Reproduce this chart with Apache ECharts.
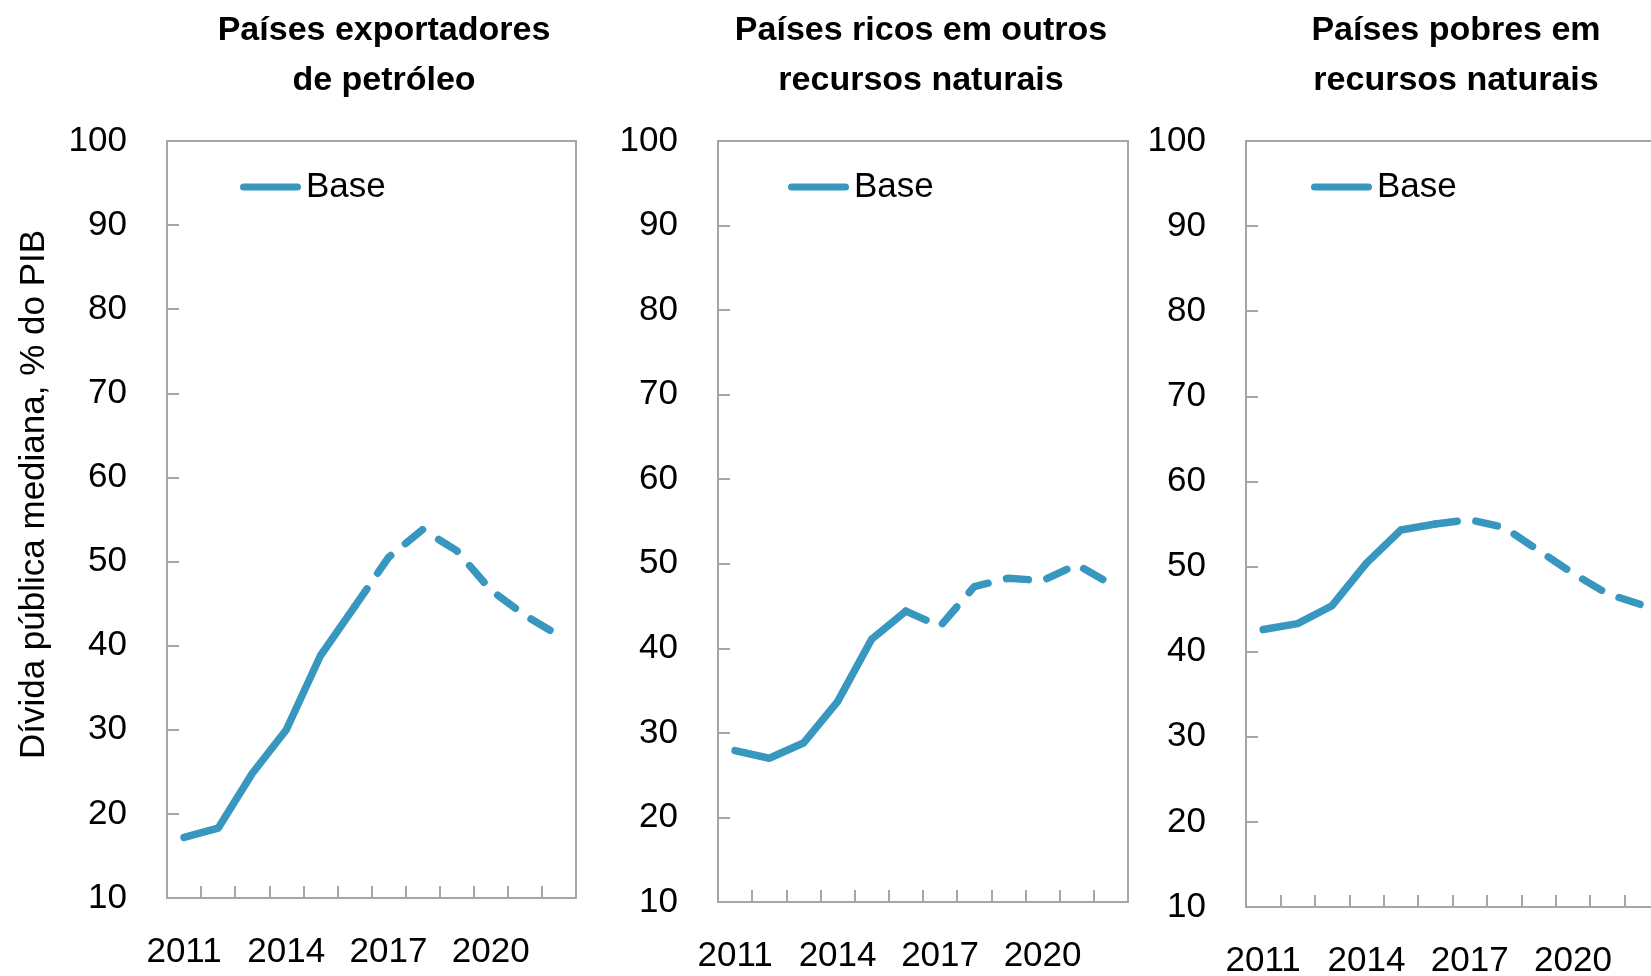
<!DOCTYPE html>
<html>
<head>
<meta charset="utf-8">
<script src="https://cdn.jsdelivr.net/npm/echarts@6/dist/echarts.min.js"></script>
<style>
html,body{margin:0;padding:0;background:#fff;}
#chart{width:1651px;height:976px;}
</style>
</head>
<body>
<div id="chart"></div>
<script>
// ---- Data ----
const years = ['2011','2012','2013','2014','2015','2016','2017','2018','2019','2020','2021','2022'];
const lastActualYear = '2016';
const oilExporters = [17.2, 18.3, 24.8, 30.0, 38.8, 44.6, 50.5, 53.8, 51.3, 46.6, 43.6, 41.2];
const otherResourceRich = [27.9, 27.0, 28.8, 33.7, 41.1, 44.4, 42.6, 47.3, 48.3, 48.0, 49.9, 47.6];
const resourcePoor = [42.6, 43.3, 45.4, 50.4, 54.3, 55.0, 55.5, 54.6, 51.9, 49.2, 46.8, 45.5];
const panelTitles = ['Países exportadores\nde petróleo', 'Países ricos em outros\nrecursos naturais', 'Países pobres em\nrecursos naturais'];
const seriesName = 'Base';
const yAxisTitle = 'Dívida pública mediana, % do PIB';
const yTicks = {min: 10, max: 100, interval: 10};

// ---- Layout / style ----
const FONT = "'Liberation Sans', Arial, Helvetica, sans-serif";
const FS = {title: 34, tick: 35, xtick: 35, legend: 35, name: 35};
const LINE_COLOR = '#3797bf';
const GRID_COLOR = '#a6a6a6';
const panels = [
  {data: oilExporters, grid: {left: 167, top: 141, width: 409, height: 757}, titleX: 384, legendX: 240},
  {data: otherResourceRich, grid: {left: 718, top: 141, width: 410, height: 761}, titleX: 921, legendX: 788},
  {data: resourcePoor, grid: {left: 1246, top: 141, width: 413, height: 766}, titleX: 1456, legendX: 1311}
];
const LEGEND_ICON = 'path://M3.5,0 H57.5 A3.5,3.5 0 0 1 57.5,7 H3.5 A3.5,3.5 0 0 1 3.5,0 Z';

const splitIdx = years.indexOf(lastActualYear);
const option = {
  backgroundColor: '#fff',
  animation: false,
  textStyle: {fontFamily: FONT},
  title: [], legend: [], grid: [], xAxis: [], yAxis: [], series: []
};

panels.forEach((p, k) => {
  option.title.push({
    text: panelTitles[k], left: p.titleX, top: 6, textAlign: 'center', padding: 0,
    textStyle: {fontFamily: FONT, fontSize: FS.title, fontWeight: 'bold', color: '#000', lineHeight: 50}
  });
  option.legend.push({
    data: [{name: seriesName, icon: LEGEND_ICON}], left: p.legendX, top: 166, padding: 0,
    itemWidth: 61, itemHeight: 7, itemGap: 10,
    itemStyle: {color: LINE_COLOR, borderWidth: 0},
    textStyle: {fontFamily: FONT, fontSize: FS.legend, color: '#000', lineHeight: 42}
  });
  option.grid.push(Object.assign({
    show: true, borderColor: GRID_COLOR, borderWidth: 2, backgroundColor: 'transparent',
    containLabel: false, outerBoundsMode: 'none'
  }, p.grid));
  option.xAxis.push({
    type: 'category', gridIndex: k, data: years, boundaryGap: true,
    axisLine: {show: true, lineStyle: {color: GRID_COLOR, width: 2}},
    axisTick: {show: true, inside: true, length: 12, interval: 0, lineStyle: {color: GRID_COLOR, width: 2}},
    axisLabel: {interval: 2, margin: 37, fontSize: FS.xtick, color: '#000', fontFamily: FONT},
    splitLine: {show: false}
  });
  const ya = {
    type: 'value', gridIndex: k, min: yTicks.min, max: yTicks.max, interval: yTicks.interval,
    axisLine: {show: true, lineStyle: {color: GRID_COLOR, width: 2}},
    axisTick: {show: true, inside: true, length: 12, lineStyle: {color: GRID_COLOR, width: 2}},
    axisLabel: {margin: 40, fontSize: FS.tick, color: '#000', fontFamily: FONT},
    splitLine: {show: false}
  };
  if (k === 0) {
    Object.assign(ya, {
      name: yAxisTitle, nameLocation: 'middle', nameGap: 115, nameRotate: 90,
      nameTextStyle: {fontSize: FS.name, color: '#000', fontFamily: FONT, padding: [0, 0, 0, 50]}
    });
  }
  option.yAxis.push(ya);
  option.series.push({
    name: seriesName, type: 'line', xAxisIndex: k, yAxisIndex: k,
    data: p.data.map((v, i) => (i <= splitIdx ? v : null)),
    symbol: 'none', showSymbol: false, connectNulls: false,
    lineStyle: {color: LINE_COLOR, width: 7.5, cap: 'round', join: 'round'},
    itemStyle: {color: LINE_COLOR}
  });
  option.series.push({
    name: seriesName, type: 'line', xAxisIndex: k, yAxisIndex: k,
    data: p.data.map((v, i) => (i >= splitIdx ? v : null)),
    symbol: 'none', showSymbol: false, connectNulls: false,
    lineStyle: {color: LINE_COLOR, width: 7.5, type: [22, 19], cap: 'round', join: 'round'},
    itemStyle: {color: LINE_COLOR}
  });
});

const chart = echarts.init(document.getElementById('chart'), null, {renderer: 'canvas'});
chart.setOption(option);
</script>
</body>
</html>
